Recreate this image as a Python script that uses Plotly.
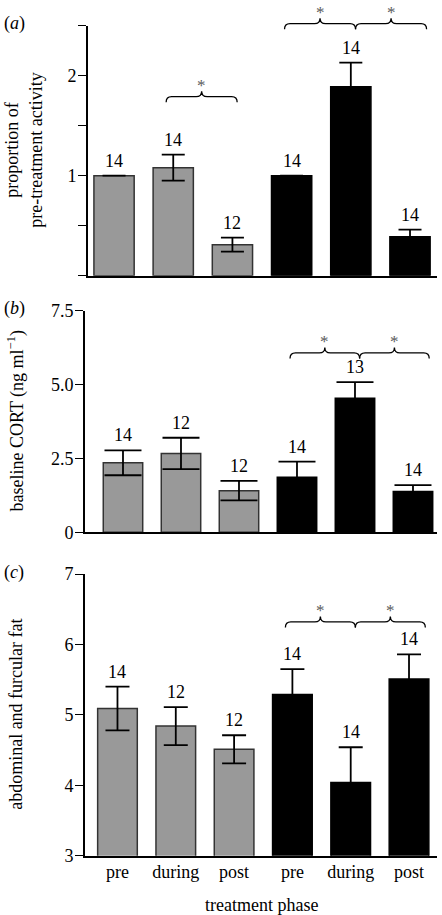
import plotly.graph_objects as go

# ---------------- data ----------------
phases = ["pre", "during", "post", "pre", "during", "post"]
bar_colors = ["#999999", "#999999", "#999999", "#000000", "#000000", "#000000"]
edge_colors = ["#333333", "#333333", "#333333", "#000000", "#000000", "#000000"]

activity_mean = [1.0, 1.08, 0.31, 1.0, 1.89, 0.39]
activity_se = [None, 0.13, 0.07, None, 0.24, 0.07]
activity_n = [14, 14, 12, 14, 14, 14]

cort_mean = [2.35, 2.67, 1.41, 1.86, 4.54, 1.38]
cort_se = [0.42, 0.53, 0.33, 0.53, 0.54, 0.22]
cort_n = [14, 12, 12, 14, 13, 14]

fat_mean = [5.09, 4.84, 4.51, 5.29, 4.04, 5.51]
fat_se = [0.31, 0.27, 0.20, 0.36, 0.50, 0.35]
fat_n = [14, 12, 12, 14, 14, 14]

# significant comparisons (chains of bar indices) and the level of their braces
sig_a = [[1, 2], [3, 4, 5]]
sig_a_level = [1.79, 2.52]
sig_b = [[3, 4, 5]]
sig_b_level = [6.07]
sig_c = [[3, 4, 5]]
sig_c_level = [6.32]

# ---------------- layout geometry (pixels) ----------------
W, H = 442, 915
FONT = "Liberation Serif, Times New Roman, serif"

panels = [
    dict(letter="a", mean=activity_mean, se=activity_se, n=activity_n,
         sig=sig_a, lev=sig_a_level,
         px=(88, 437), py=(25.7, 275.7), xr=(-0.44, 5.456), yr=(0, 2.5),
         tickvals=[0, 0.5, 1, 1.5, 2, 2.5], ticktext=["", "", "1", "", "2", ""],
         cap=11.5, title="proportion of<br>pre-treatment activity"),
    dict(letter="b", mean=cort_mean, se=cort_se, n=cort_n,
         sig=sig_b, lev=sig_b_level,
         px=(85, 437), py=(310.7, 532.3), xr=(-0.655, 5.414), yr=(0, 7.5),
         tickvals=[0, 2.5, 5, 7.5], ticktext=["0", "2.5", "5.0", "7.5"],
         cap=18.5, title="baseline CORT (ng ml<sup>−1</sup>)"),
    dict(letter="c", mean=fat_mean, se=fat_se, n=fat_n,
         sig=sig_c, lev=sig_c_level,
         px=(85, 437), py=(574, 855.7), xr=(-0.557, 5.48), yr=(3, 7),
         tickvals=[3, 4, 5, 6, 7], ticktext=["3", "4", "5", "6", "7"],
         cap=12, title="abdominal and furcular fat"),
]

fig = go.Figure()
annotations = []
shapes = []
xpos = list(range(len(phases)))

for k, p in enumerate(panels):
    sfx = "" if k == 0 else str(k + 1)
    xa, ya = "x" + sfx, "y" + sfx
    fig.add_trace(go.Bar(
        x=xpos, y=p["mean"], width=0.68,
        marker=dict(color=bar_colors, line=dict(color=edge_colors, width=1.5)),
        error_y=dict(type="data", array=p["se"], color="black",
                     thickness=1.8, width=p["cap"]),
        xaxis=xa, yaxis=ya, showlegend=False, hoverinfo="skip",
    ))
    # sample sizes above bars
    for i, (m, s, nn) in enumerate(zip(p["mean"], p["se"], p["n"])):
        annotations.append(dict(
            x=i, y=m + (s or 0), xref=xa, yref=ya, text=str(nn),
            showarrow=False, yanchor="bottom", yshift=3,
            font=dict(family=FONT, size=18, color="black")))

    dom_x = [p["px"][0] / W, p["px"][1] / W]
    dom_y = [1 - p["py"][1] / H, 1 - p["py"][0] / H]
    last = k == len(panels) - 1
    fig.layout["xaxis" + sfx] = dict(
        domain=dom_x, range=list(p["xr"]), anchor=ya, automargin=False,
        showline=True, linecolor="black", linewidth=1.6,
        showgrid=False, zeroline=False, ticks="",
        tickvals=xpos if last else [], ticktext=phases if last else [],
        showticklabels=last, ticklabelstandoff=-1,
        tickfont=dict(family=FONT, size=18, color="black"))
    fig.layout["yaxis" + sfx] = dict(
        domain=dom_y, range=list(p["yr"]), anchor=xa, automargin=False,
        showline=True, linecolor="black", linewidth=1.6,
        showgrid=False, zeroline=False, ticks="outside", ticklen=8,
        tickwidth=1.4, tickcolor="black",
        tickvals=p["tickvals"], ticktext=p["ticktext"], ticklabelstandoff=-2,
        tickfont=dict(family=FONT, size=18, color="black"))

    # pixel mapping helpers for decorations
    x0p, x1p = p["px"]
    y0p, y1p = p["py"]
    r0, r1 = p["xr"]
    q0, q1 = p["yr"]

    def fx(v, x0p=x0p, x1p=x1p, r0=r0, r1=r1):
        return x0p + (v - r0) / (r1 - r0) * (x1p - x0p)

    def fy(v, y0p=y0p, y1p=y1p, q0=q0, q1=q1):
        return y1p - (v - q0) / (q1 - q0) * (y1p - y0p)

    def P(xp, yp):
        return f"{xp / W:.5f},{1 - yp / H:.5f}"

    # braces with asterisks
    for chain, lev in zip(p["sig"], p["lev"]):
        start = chain[0] - 0.12
        yl = fy(lev)
        for i, j in zip(chain[:-1], chain[1:]):
            end = start + (j - i) * 1.2
            L, R = fx(start), fx(end)
            M = (L + R) / 2
            h = 5.5
            path = ("M " + P(L, yl + h) + " Q " + P(L, yl) + " " + P(L + h, yl) +
                    " L " + P(M - h, yl) + " Q " + P(M, yl) + " " + P(M, yl - h) +
                    " Q " + P(M, yl) + " " + P(M + h, yl) +
                    " L " + P(R - h, yl) + " Q " + P(R, yl) + " " + P(R, yl + h))
            shapes.append(dict(type="path", path=path, xref="paper", yref="paper",
                               line=dict(color="black", width=1.3)))
            annotations.append(dict(
                x=M / W, y=1 - (yl - 11) / H, xref="paper", yref="paper",
                text="*", showarrow=False, xanchor="center", yanchor="middle",
                font=dict(family=FONT, size=17, color="#5a5a5a")))
            start = end

    # panel letter
    annotations.append(dict(
        x=2 / W, y=1 - (y0p - 2) / H, xref="paper", yref="paper",
        text=f"(<i>{p['letter']}</i>)", showarrow=False,
        xanchor="left", yanchor="middle",
        font=dict(family=FONT, size=18, color="black")))
    # y title
    tx = 24 if k == 0 else 16
    annotations.append(dict(
        x=tx / W, y=1 - ((y0p + y1p) / 2) / H, xref="paper", yref="paper",
        text=p["title"], showarrow=False, textangle=-90,
        xanchor="center", yanchor="middle",
        font=dict(family=FONT, size=18, color="black")))

# x title
annotations.append(dict(
    x=((85 + 437) / 2) / W, y=1 - 905 / H, xref="paper", yref="paper",
    text="treatment phase", showarrow=False, xanchor="center", yanchor="middle",
    font=dict(family=FONT, size=18, color="black")))

fig.update_layout(
    width=W, height=H, margin=dict(l=0, r=0, t=0, b=0, autoexpand=False),
    paper_bgcolor="white", plot_bgcolor="white",
    bargap=0.3, annotations=annotations, shapes=shapes,
    font=dict(family=FONT, size=18, color="black"),
)

fig.write_html(
    "out.html",
    config={"displayModeBar": False},
    post_script="document.body.style.margin='0';document.body.style.overflow='hidden';",
)
